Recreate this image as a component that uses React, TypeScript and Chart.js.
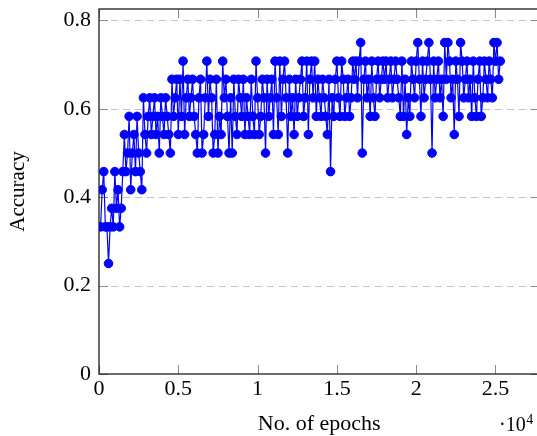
import React, { useEffect, useRef } from "react";
import { Chart, registerables } from "chart.js";

Chart.register(...registerables);

// Logging interval of the training run (epochs)
const firstEpoch = 100;
const epochStep = 100;

const accuracy: number[] = [
  0.333, 0.417, 0.458, 0.333, 0.333, 0.25, 0.333, 0.375, 0.333, 0.458,
  0.375, 0.417, 0.333, 0.375, 0.458, 0.542, 0.458, 0.5, 0.583, 0.417,
  0.5, 0.542, 0.458, 0.583, 0.5, 0.458, 0.417, 0.625, 0.542, 0.5,
  0.583, 0.625, 0.542, 0.583, 0.625, 0.542, 0.583, 0.5, 0.625, 0.583,
  0.542, 0.625, 0.583, 0.542, 0.5, 0.667, 0.583, 0.625, 0.667, 0.542,
  0.667, 0.583, 0.708, 0.542, 0.625, 0.667, 0.583, 0.625, 0.667, 0.583,
  0.542, 0.5, 0.625, 0.667, 0.5, 0.542, 0.625, 0.708, 0.583, 0.667,
  0.625, 0.5, 0.542, 0.667, 0.5, 0.583, 0.542, 0.708, 0.625, 0.667,
  0.583, 0.5, 0.625, 0.5, 0.667, 0.583, 0.542, 0.667, 0.625, 0.583,
  0.667, 0.542, 0.625, 0.583, 0.542, 0.667, 0.583, 0.542, 0.708, 0.625,
  0.542, 0.583, 0.667, 0.625, 0.5, 0.667, 0.583, 0.625, 0.667, 0.542,
  0.708, 0.625, 0.542, 0.708, 0.583, 0.667, 0.708, 0.625, 0.5, 0.667,
  0.583, 0.625, 0.542, 0.667, 0.583, 0.625, 0.667, 0.708, 0.583, 0.625,
  0.708, 0.542, 0.667, 0.708, 0.625, 0.708, 0.583, 0.667, 0.625, 0.583,
  0.667, 0.625, 0.583, 0.542, 0.667, 0.458, 0.625, 0.583, 0.667, 0.708,
  0.625, 0.583, 0.708, 0.667, 0.583, 0.625, 0.667, 0.583, 0.625, 0.708,
  0.667, 0.708, 0.625, 0.708, 0.75, 0.5, 0.667, 0.708, 0.625, 0.667,
  0.583, 0.708, 0.625, 0.583, 0.667, 0.708, 0.625, 0.667, 0.708, 0.667,
  0.708, 0.625, 0.667, 0.708, 0.625, 0.667, 0.708, 0.667, 0.625, 0.583,
  0.708, 0.583, 0.667, 0.542, 0.625, 0.583, 0.708, 0.667, 0.625, 0.708,
  0.75, 0.667, 0.583, 0.708, 0.625, 0.667, 0.708, 0.75, 0.667, 0.5,
  0.708, 0.625, 0.667, 0.708, 0.625, 0.667, 0.583, 0.75, 0.667, 0.75,
  0.708, 0.625, 0.667, 0.542, 0.708, 0.667, 0.583, 0.75, 0.708, 0.625,
  0.667, 0.708, 0.625, 0.667, 0.583, 0.708, 0.625, 0.583, 0.667, 0.708,
  0.583, 0.625, 0.708, 0.667, 0.625, 0.708, 0.667, 0.625, 0.75, 0.708,
  0.75, 0.667, 0.708,
];

const xTickValues = [0, 5000, 10000, 15000, 20000, 25000];
const xTickLabels = ["0", "0.5", "1", "1.5", "2", "2.5"];
const yTickValues = [0, 0.2, 0.4, 0.6, 0.8];
const yTickLabels = ["0", "0.2", "0.4", "0.6", "0.8"];
const xTitle = "No. of epochs";
const yTitle = "Accuracy";
const xScaleNote = "\u00b710";
const xScaleExp = "4";

const FONT = "'Liberation Serif', 'Times New Roman', serif";
const BLUE = "rgb(0,0,255)";

const framePlugin = {
  id: "pgfFrame",
  beforeDatasetsDraw(chart: any) {
    const { ctx, chartArea: a, scales } = chart;
    const xs = scales.x;
    const ys = scales.y;
    ctx.save();
    // dashed horizontal grid
    ctx.strokeStyle = "#c4c4c4";
    ctx.lineWidth = 1;
    ctx.setLineDash([7, 5]);
    ys.ticks.forEach((t: any) => {
      if (t.value === 0) return;
      const y = Math.round(ys.getPixelForValue(t.value)) + 0.5;
      ctx.beginPath();
      ctx.moveTo(a.left, y);
      ctx.lineTo(a.right, y);
      ctx.stroke();
    });
    ctx.setLineDash([]);
    // inward tick marks
    ctx.strokeStyle = "#8a8a8a";
    ctx.lineWidth = 1;
    const tl = 9;
    xs.ticks.forEach((t: any) => {
      const x = Math.round(xs.getPixelForValue(t.value)) + 0.5;
      ctx.beginPath();
      ctx.moveTo(x, a.bottom);
      ctx.lineTo(x, a.bottom - tl);
      ctx.moveTo(x, a.top);
      ctx.lineTo(x, a.top + tl);
      ctx.stroke();
    });
    ys.ticks.forEach((t: any) => {
      const y = Math.round(ys.getPixelForValue(t.value)) + 0.5;
      ctx.beginPath();
      ctx.moveTo(a.left, y);
      ctx.lineTo(a.left + tl, y);
      ctx.moveTo(a.right, y);
      ctx.lineTo(a.right - tl, y);
      ctx.stroke();
    });
    // frame
    ctx.strokeStyle = "#1e1e1e";
    ctx.lineWidth = 1.3;
    ctx.strokeRect(a.left, a.top, a.right - a.left, a.bottom - a.top);
    ctx.restore();
  },
  afterDraw(chart: any) {
    const { ctx } = chart;
    ctx.save();
    ctx.fillStyle = "#000";
    ctx.textAlign = "left";
    ctx.textBaseline = "alphabetic";
    ctx.font = `20px ${FONT}`;
    ctx.fillText(xScaleNote, 499, 431);
    const w = ctx.measureText(xScaleNote).width;
    ctx.font = `14px ${FONT}`;
    ctx.fillText(xScaleExp, 499 + w + 0.5, 424);
    ctx.restore();
  },
};

export default function App() {
  const ref = useRef<HTMLCanvasElement>(null);

  useEffect(() => {
    if (!ref.current) return;
    const points = accuracy.map((v, i) => ({ x: firstEpoch + i * epochStep, y: v }));
    const chart = new Chart(ref.current, {
      type: "line",
      data: {
        datasets: [
          {
            data: points,
            borderColor: BLUE,
            backgroundColor: BLUE,
            borderWidth: 1.2,
            pointRadius: 4.3,
            pointBorderWidth: 1,
            pointBackgroundColor: BLUE,
            pointBorderColor: BLUE,
            tension: 0,
          },
        ],
      },
      options: {
        animation: false,
        responsive: false,
        devicePixelRatio: 1,
        layout: { padding: { top: 9, right: 5.5, left: 0, bottom: 0 } },
        plugins: { legend: { display: false }, tooltip: { enabled: false } },
        scales: {
          x: {
            type: "linear",
            min: 0,
            max: 27775,
            grid: { display: false, drawTicks: false },
            border: { display: false },
            afterBuildTicks: (s: any) => {
              s.ticks = xTickValues.map((v) => ({ value: v }));
            },
            ticks: {
              maxRotation: 0,
              autoSkip: false,
              padding: 2,
              color: "#000",
              font: { family: FONT, size: 22 },
              callback: (_v: any, i: number) => xTickLabels[i],
            },
            title: {
              display: true,
              text: xTitle,
              color: "#000",
              font: { family: FONT, size: 22 },
              padding: { top: 0, bottom: -1 },
            },
            afterFit: (s: any) => {
              s.height = 62;
              s.paddingLeft = 0;
              s.paddingRight = 0;
            },
          },
          y: {
            min: 0,
            max: 0.826,
            grid: { display: false, drawTicks: false },
            border: { display: false },
            afterBuildTicks: (s: any) => {
              s.ticks = yTickValues.map((v) => ({ value: v }));
            },
            ticks: {
              padding: 8,
              color: "#000",
              font: { family: FONT, size: 22 },
              callback: (_v: any, i: number) => yTickLabels[i],
            },
            title: {
              display: true,
              text: yTitle,
              color: "#000",
              font: { family: FONT, size: 21 },
              padding: { top: 6, bottom: 0 },
            },
            afterFit: (s: any) => {
              s.width = 99;
              s.paddingTop = 0;
              s.paddingBottom = 0;
            },
          },
        },
      },
      plugins: [framePlugin],
    } as any);
    return () => chart.destroy();
  }, []);

  return (
    <div
      style={{
        position: "absolute",
        left: 0,
        top: 0,
        width: 537,
        height: 436,
        overflow: "hidden",
        background: "#fff",
      }}
    >
      <canvas ref={ref} width={545} height={436} style={{ display: "block", width: 545, height: 436 }} />
    </div>
  );
}
